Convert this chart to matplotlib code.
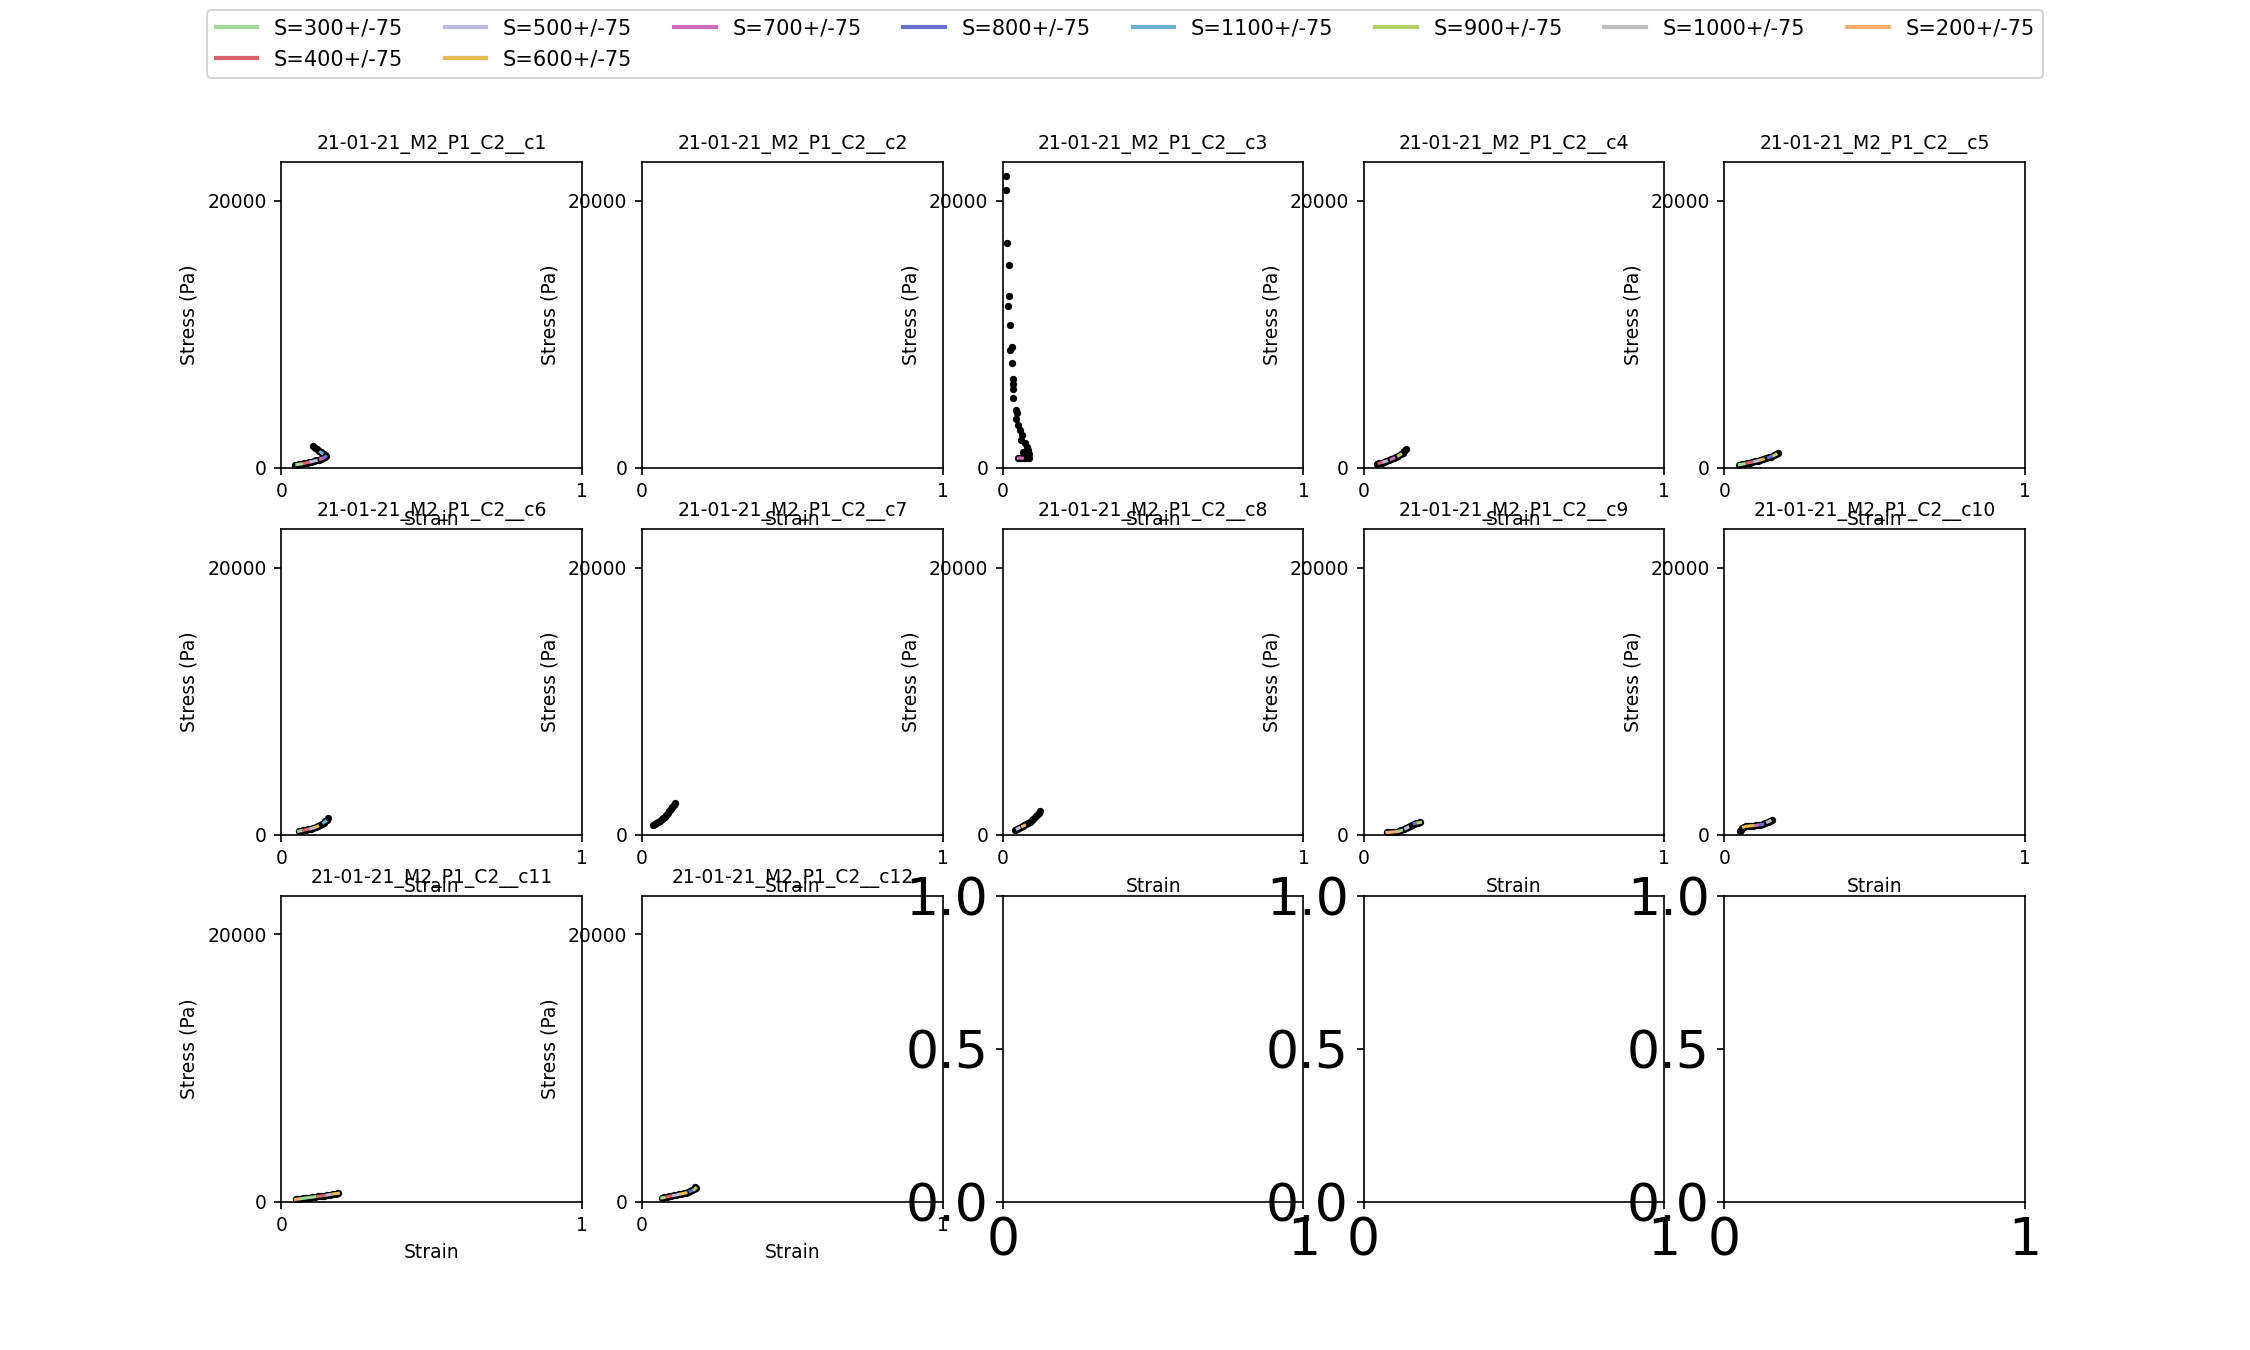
import numpy as np
import matplotlib
matplotlib.use("Agg")
import matplotlib.pyplot as plt
from matplotlib.lines import Line2D

# stress bins (Pa) shown in the legend, in legend order
s_bins = [300, 400, 500, 600, 700, 800, 1100, 900, 1000, 200]
s_tol = 75
bin_colors = ["#a1d99b", "#d6616b", "#bcbddc", "#e7ba52", "#ce6dbd",
              "#6b6ecf", "#6baed6", "#b5cf6b", "#bdbdbd", "#fdae6b"]

titles = ["21-01-21_M2_P1_C2__c%d" % i for i in range(1, 13)]

# strain / stress / bin label (0 = outside every bin) for each sample
strain_c1 = [0.045, 0.052, 0.060, 0.068, 0.076, 0.084, 0.092, 0.100, 0.108, 0.116, 0.124, 0.131,
             0.138, 0.144, 0.148, 0.146, 0.141, 0.136, 0.131, 0.125, 0.118, 0.111, 0.105]
stress_c1 = [215, 240, 265, 290, 330, 370, 410, 455, 500, 545, 600, 660,
             720, 780, 850, 930, 1010, 1090, 1160, 1260, 1380, 1500, 1600]
s_c1 = [0, 300, 300, 300, 400, 400, 400, 500, 500, 500, 600, 700,
        700, 800, 800, 0, 0, 1100, 1100, 0, 0, 0, 0]

strain_c2 = []
stress_c2 = []
s_c2 = []

strain_c3 = [0.011, 0.011, 0.015, 0.019, 0.019, 0.017, 0.024, 0.029, 0.025, 0.032, 0.033, 0.033,
             0.034, 0.033, 0.043, 0.046, 0.043, 0.051, 0.058, 0.064, 0.061, 0.073, 0.080, 0.084,
             0.088, 0.086, 0.082, 0.077, 0.072, 0.068, 0.074, 0.080, 0.052, 0.058, 0.065]
stress_c3 = [21850, 20780, 16850, 15160, 12860, 12110, 10710, 9040, 8815, 7865, 6620, 6270,
             5920, 5200, 4320, 4070, 3650, 3175, 2820, 2450, 2075, 1830, 1575, 1325,
             1025, 760, 825, 700, 760, 1150, 950, 900, 720, 735, 715]
s_c3 = [0] * 32 + [700, 700, 700]

strain_c4 = [0.045, 0.052, 0.060, 0.068, 0.076, 0.084, 0.092, 0.100, 0.108, 0.116, 0.123, 0.130,
             0.136, 0.142]
stress_c4 = [300, 340, 390, 440, 500, 560, 640, 720, 810, 900, 1000, 1100, 1220, 1370]
s_c4 = [0, 400, 400, 500, 500, 600, 700, 700, 800, 900, 900, 1100, 0, 0]

strain_c5 = [0.050, 0.058, 0.066, 0.075, 0.084, 0.093, 0.102, 0.111, 0.120, 0.129, 0.138, 0.147,
             0.156, 0.165, 0.172, 0.178]
stress_c5 = [230, 260, 300, 345, 385, 430, 475, 525, 580, 640, 700, 770, 840, 920, 1000, 1080]
s_c5 = [300, 300, 300, 400, 400, 400, 500, 500, 600, 600, 700, 800, 800, 900, 900, 0]

strain_c6 = [0.058, 0.066, 0.074, 0.082, 0.090, 0.098, 0.106, 0.114, 0.121, 0.128, 0.135, 0.141,
             0.147, 0.152, 0.157]
stress_c6 = [260, 290, 330, 370, 410, 450, 500, 560, 630, 710, 800, 900, 1000, 1120, 1280]
s_c6 = [300, 300, 400, 400, 400, 500, 500, 600, 600, 700, 800, 1100, 1100, 0, 0]

strain_c7 = [0.036, 0.042, 0.048, 0.054, 0.060, 0.066, 0.071, 0.076, 0.081, 0.086, 0.091, 0.096,
             0.101, 0.106, 0.110]
stress_c7 = [700, 790, 880, 960, 1050, 1140, 1220, 1340, 1480, 1620, 1760, 1900, 2050, 2200, 2340]
s_c7 = [0] * 15

strain_c8 = [0.042, 0.048, 0.054, 0.060, 0.066, 0.072, 0.078, 0.084, 0.090, 0.096, 0.102, 0.108,
             0.114, 0.119, 0.123]
stress_c8 = [380, 440, 500, 560, 620, 690, 770, 860, 960, 1060, 1180, 1320, 1480, 1640, 1780]
s_c8 = [0, 500, 500, 700, 600, 600, 800, 900, 1000, 1100, 0, 0, 0, 0, 0]

strain_c9 = [0.078, 0.086, 0.094, 0.102, 0.110, 0.118, 0.126, 0.133, 0.140, 0.147, 0.154, 0.161,
             0.168, 0.175, 0.182, 0.189]
stress_c9 = [160, 175, 190, 205, 225, 260, 320, 390, 460, 540, 640, 740, 820, 860, 890, 920]
s_c9 = [200, 200, 200, 200, 200, 300, 300, 400, 500, 500, 600, 700, 800, 800, 900, 900]

strain_c10 = [0.052, 0.054, 0.058, 0.064, 0.072, 0.080, 0.088, 0.096, 0.104, 0.112, 0.120, 0.128,
              0.136, 0.144, 0.152, 0.160]
stress_c10 = [300, 380, 470, 560, 620, 645, 660, 670, 690, 720, 750, 780, 850, 940, 1030, 1130]
s_c10 = [300, 400, 500, 600, 600, 600, 600, 600, 700, 700, 800, 800, 0, 1000, 1000, 0]

strain_c11 = [0.048, 0.056, 0.064, 0.072, 0.082, 0.092, 0.102, 0.112, 0.122, 0.132, 0.142, 0.152,
              0.162, 0.172, 0.181, 0.190]
stress_c11 = [160, 185, 210, 235, 265, 295, 325, 355, 385, 415, 445, 480, 520, 560, 590, 620]
s_c11 = [200, 200, 300, 300, 300, 300, 300, 300, 400, 400, 400, 500, 500, 600, 600, 600]

strain_c12 = [0.066, 0.074, 0.082, 0.090, 0.098, 0.106, 0.114, 0.122, 0.130, 0.138, 0.146, 0.153,
              0.160, 0.167, 0.174, 0.178, 0.175]
stress_c12 = [270, 300, 340, 380, 420, 455, 490, 530, 570, 610, 650, 700, 760, 830, 900, 990, 1100]
s_c12 = [300, 300, 400, 400, 400, 500, 500, 500, 600, 600, 600, 700, 800, 800, 900, 900, 0]

strains = [strain_c1, strain_c2, strain_c3, strain_c4, strain_c5, strain_c6,
           strain_c7, strain_c8, strain_c9, strain_c10, strain_c11, strain_c12]
stresses = [stress_c1, stress_c2, stress_c3, stress_c4, stress_c5, stress_c6,
            stress_c7, stress_c8, stress_c9, stress_c10, stress_c11, stress_c12]
s_labels = [s_c1, s_c2, s_c3, s_c4, s_c5, s_c6, s_c7, s_c8, s_c9, s_c10, s_c11, s_c12]

fig, axes = plt.subplots(3, 5, figsize=(15, 9), dpi=150)
axes = axes.flatten()

for i in range(len(titles)):
    ax = axes[i]
    x = np.array(strains[i], dtype=float)
    y = np.array(stresses[i], dtype=float)
    s = np.array(s_labels[i])
    ax.plot(x, y, ".", color="k", ms=5)
    for b, c in zip(s_bins, bin_colors):
        sel = s == b
        if sel.any():
            ax.plot(x[sel], y[sel], color=c, lw=1.5)
    ax.set_xlim(0, 1)
    ax.set_ylim(0, 22900)
    ax.set_xticks([0, 1])
    ax.set_yticks([0, 20000])
    ax.tick_params(labelsize=9)
    ax.set_title(titles[i], fontsize=9)
    ax.set_xlabel("Strain", fontsize=9)
    ax.set_ylabel("Stress (Pa)", fontsize=9)

# leftover empty panels keep the big default ticks
for ax in axes[len(titles):]:
    ax.tick_params(labelsize=25)

handles = [Line2D([], [], color=c, lw=2) for c in bin_colors]
labels = ["S=%d+/-%d" % (b, s_tol) for b in s_bins]
fig.legend(handles, labels, loc="upper center", ncol=8, fontsize=10)

fig.savefig("out.png", dpi=150)
